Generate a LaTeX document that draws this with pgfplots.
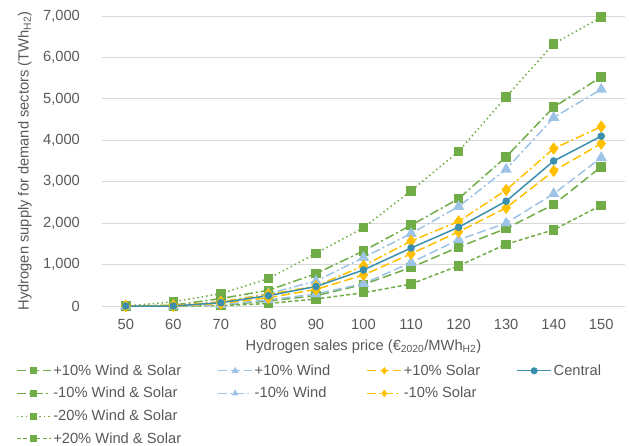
\documentclass[border=0pt]{standalone}
\usepackage{pgfplots}
\pgfplotsset{compat=1.18}
\usepackage{fontspec}
\setmainfont{Liberation Sans}
\definecolor{cgreen}{HTML}{70AD47}
\definecolor{cblue}{HTML}{9DC3E6}
\definecolor{cyellow}{HTML}{FFC000}
\definecolor{cteal}{HTML}{3A8FAE}
\definecolor{ctext}{HTML}{595959}
\definecolor{cgrid}{HTML}{D9D9D9}
\begin{document}
\begin{tikzpicture}[font=\fontsize{14.7}{17}\selectfont]
\path[use as bounding box] (0pt,0pt) rectangle (629pt,-446pt);
\begin{axis}[
  at={(102pt,-306pt)}, anchor=south west,
  scale only axis, width=523pt, height=290pt,
  xmin=45, xmax=155, ymin=0, ymax=7000,
  clip=false,
  axis line style={draw=none},
  major tick length=0pt,
  xtick={50,60,...,150},
  ytick={0,1000,...,7000},
  scaled y ticks=false,
  ymajorgrids, grid style={cgrid, line width=1pt},
  tick label style={text=ctext},
  /pgf/number format/assume math mode=true,
  /pgf/number format/1000 sep={,},
  yticklabel style={xshift=-18pt},
  xticklabel style={yshift=-9pt},
  xlabel={Hydrogen sales price (€\textsubscript{2020}/MWh\textsubscript{H2})},
  ylabel={Hydrogen supply for demand sectors (TWh\textsubscript{H2})},
  label style={text=ctext},
  xlabel style={yshift=-3pt},
  ylabel style={yshift=4pt},
  line width=1.5pt,
  legend columns=4,
  legend cell align=left,
  legend style={draw=none, fill=none, at={(-0.171,-0.186)}, anchor=north west,
    text=ctext, row sep=6.5pt,
    nodes={inner sep=2pt},
    /tikz/every even column/.append style={column sep=34.5pt}},
  legend image code/.code={\draw[mark repeat=2,mark phase=2,#1,line width=1pt,mark size=3pt] plot coordinates {(0pt,0pt) (17pt,0pt) (34pt,0pt)};},
]
% +20% W&S
\addplot[cgreen, dash pattern=on 4pt off 2.5pt, mark=square*, mark size=4pt, mark options={solid}, forget plot]
 coordinates {(50,0)(60,0)(70,10)(80,60)(90,170)(100,320)(110,530)(120,970)(130,1490)(140,1840)(150,2430)};
% +10% W&S
\addplot[cgreen, dash pattern=on 9pt off 4pt, mark=square*, mark size=4pt, mark options={solid}, forget plot]
 coordinates {(50,0)(60,0)(70,20)(80,120)(90,250)(100,520)(110,930)(120,1420)(130,1870)(140,2450)(150,3360)};
% -10% W&S
\addplot[cgreen, dash pattern=on 9pt off 3pt on 2pt off 3pt, mark=square*, mark size=4pt, mark options={solid}, forget plot]
 coordinates {(50,0)(60,20)(70,180)(80,380)(90,780)(100,1330)(110,1950)(120,2590)(130,3600)(140,4800)(150,5530)};
% -20% W&S
\addplot[cgreen, dash pattern=on 1.5pt off 3pt, mark=square*, mark size=4pt, mark options={solid}, forget plot]
 coordinates {(50,0)(60,100)(70,300)(80,660)(90,1270)(100,1890)(110,2780)(120,3730)(130,5050)(140,6330)(150,6970)};
% +10% Wind
\addplot[cblue, dash pattern=on 9pt off 4pt, mark=triangle*, mark size=5pt, mark options={solid}, forget plot]
 coordinates {(50,0)(60,0)(70,30)(80,150)(90,290)(100,540)(110,1050)(120,1600)(130,2000)(140,2710)(150,3580)};
% -10% Wind
\addplot[cblue, dash pattern=on 9pt off 3pt on 2pt off 3pt, mark=triangle*, mark size=5pt, mark options={solid}, forget plot]
 coordinates {(50,0)(60,0)(70,100)(80,300)(90,600)(100,1170)(110,1750)(120,2400)(130,3300)(140,4550)(150,5230)};
% +10% Solar
\addplot[cyellow, dash pattern=on 9pt off 4pt, mark=diamond*, mark size=5pt, mark options={solid}, forget plot]
 coordinates {(50,0)(60,0)(70,60)(80,200)(90,400)(100,750)(110,1260)(120,1790)(130,2370)(140,3260)(150,3920)};
% -10% Solar
\addplot[cyellow, dash pattern=on 9pt off 3pt on 2pt off 3pt, mark=diamond*, mark size=5pt, mark options={solid}, forget plot]
 coordinates {(50,0)(60,10)(70,100)(80,280)(90,480)(100,970)(110,1570)(120,2040)(130,2800)(140,3800)(150,4330)};
% Central
\addplot[cteal, solid, mark=*, mark size=3pt, forget plot]
 coordinates {(50,0)(60,0)(70,80)(80,250)(90,470)(100,870)(110,1400)(120,1900)(130,2530)(140,3500)(150,4100)};
% legend
\addlegendimage{cgreen, dash pattern=on 9pt off 4pt, mark=square*, mark options={solid}}
\addlegendentry{+10\% Wind \& Solar}
\addlegendimage{cblue, dash pattern=on 9pt off 4pt, mark=triangle*, mark options={solid}}
\addlegendentry{+10\% Wind}
\addlegendimage{cyellow, dash pattern=on 9pt off 4pt, mark=diamond*, mark options={solid}}
\addlegendentry{+10\% Solar}
\addlegendimage{cteal, solid, mark=*}
\addlegendentry{Central}
\addlegendimage{cgreen, dash pattern=on 9pt off 3pt on 2pt off 3pt, mark=square*, mark options={solid}}
\addlegendentry{-10\% Wind \& Solar}
\addlegendimage{cblue, dash pattern=on 9pt off 3pt on 2pt off 3pt, mark=triangle*, mark options={solid}}
\addlegendentry{-10\% Wind}
\addlegendimage{cyellow, dash pattern=on 9pt off 3pt on 2pt off 3pt, mark=diamond*, mark options={solid}}
\addlegendentry{-10\% Solar}
\addlegendimage{empty legend}\addlegendentry{}
\addlegendimage{cgreen, dash pattern=on 1.5pt off 3pt, mark=square*, mark options={solid}}
\addlegendentry{-20\% Wind \& Solar}
\addlegendimage{empty legend}\addlegendentry{}
\addlegendimage{empty legend}\addlegendentry{}
\addlegendimage{empty legend}\addlegendentry{}
\addlegendimage{cgreen, dash pattern=on 4pt off 2.5pt, mark=square*, mark options={solid}}
\addlegendentry{+20\% Wind \& Solar}
\end{axis}
\end{tikzpicture}
\end{document}
